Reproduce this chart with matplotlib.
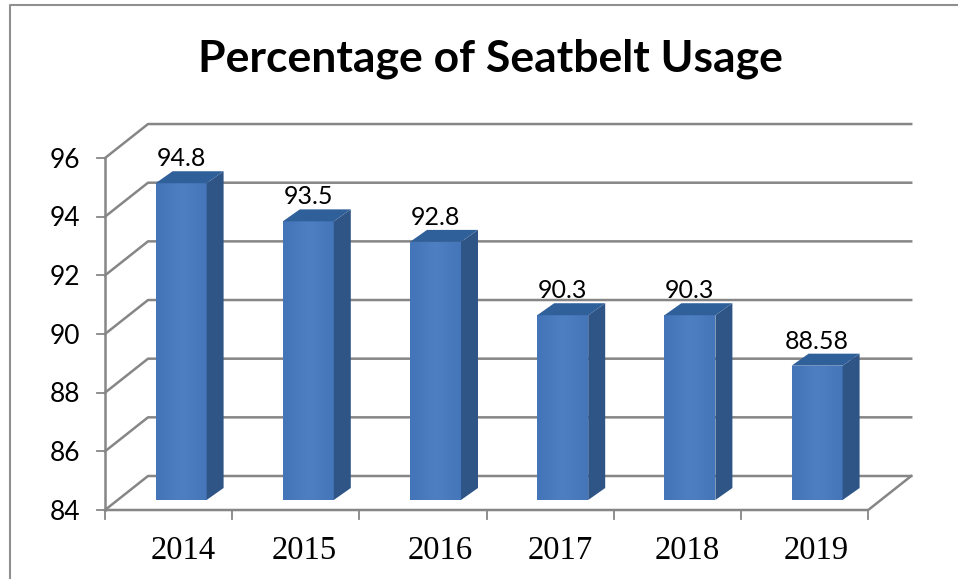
import matplotlib
matplotlib.use('Agg')
import matplotlib.pyplot as plt
from matplotlib.patches import Polygon
import numpy as np

#data
years = ['2014', '2015', '2016', '2017', '2018', '2019']
values = [94.8, 93.5, 92.8, 90.3, 90.3, 88.58]
value_labels = ['94.8', '93.5', '92.8', '90.3', '90.3', '88.58']
yticks = [84, 86, 88, 90, 92, 94, 96]

W, H = 958, 579
# pixel scale of the chart box
x0, y0 = 105, 510
px_cat = 127.2
px_val = 29.33
# wall depth, in data units
depth_x = 43 / px_cat
depth_y = 34 / px_val
grey = '#868686'
# year labels are not evenly placed in the original
year_nudge = [15, 8, 17, 10, 10, 12]

fig = plt.figure(figsize=(W / 100, H / 100), dpi=100)
ax = fig.add_axes([0, 0, 1, 1])
ax.axis('off')

# outer frame of the chart
ax.plot([10 / W, 10 / W, 1], [0, 1 - 5 / H, 1 - 5 / H], transform=ax.transAxes,
        color='#909090', lw=1.5, zorder=1)

# back wall gridlines and side wall
n = len(years)
for v in yticks:
    ax.plot([0, depth_x, n + depth_x], [v, v + depth_y, v + depth_y], color=grey, lw=1.8, zorder=1)
    ax.plot([-8 / px_cat, 0], [v, v], color=grey, lw=1.3, zorder=1)
    ax.text(-25 / px_cat, v - 2 / px_val, str(v), ha='right', va='center', fontsize=19,
            family='Lato', color='black')
ax.plot([0, 0], [84, 96], color=grey, lw=1.8, zorder=1)
# floor
ax.plot([0, n, n + depth_x], [84, 84, 84 + depth_y], color=grey, lw=1.8, zorder=1)
for i in range(n + 1):
    ax.plot([i, i], [84, 84 - 9 / px_val], color=grey, lw=1.3, zorder=1)

# bars
bar_w = 51 / px_cat
bar_dx = 17 / px_cat
bar_dy = 12 / px_val
shift_x = 12.5 / px_cat
shift_y = 10 / px_val
grad = np.array([[0.0, 0.5, 1.0, 0.6, 0.15]])
cmap = matplotlib.colors.LinearSegmentedColormap.from_list('b', ['#4375b8', '#4f80c4'])
for i, v in enumerate(values):
    mid = i + 0.5 + shift_x
    left = mid - bar_w / 2
    right = mid + bar_w / 2
    base = 84 + shift_y
    top = v + shift_y
    front = Polygon([(left, base), (right, base), (right, top), (left, top)], fc='#4a7cbe', ec='none', zorder=3)
    ax.add_patch(front)
    im = ax.imshow(grad, extent=[left, right, base, top], cmap=cmap, aspect='auto', zorder=3, interpolation='bicubic')
    im.set_clip_path(front)
    ax.add_patch(Polygon([(right, base), (right + bar_dx, base + bar_dy), (right + bar_dx, top + bar_dy), (right, top)],
                         fc='#2f5587', ec='none', zorder=3))
    ax.add_patch(Polygon([(left, top), (right, top), (right + bar_dx, top + bar_dy), (left + bar_dx, top + bar_dy)],
                         fc='#30609a', ec='none', zorder=3))
    ax.text(mid, v + 23 / px_val, value_labels[i], ha='center', va='bottom', fontsize=18,
            family='Lato', color='black', zorder=4)
    ax.text(i + 0.5 + year_nudge[i] / px_cat, 84 - 41 / px_val, years[i], ha='center', va='center', fontsize=23.5,
            family='Liberation Serif', color='black')

ax.set_xlim(-x0 / px_cat, (W - x0) / px_cat)
ax.set_ylim(84 - (H - y0) / px_val, 84 + y0 / px_val)

fig.text(490 / W, 1 - 59 / H, 'Percentage of Seatbelt Usage', ha='center', va='center',
         fontsize=32, fontweight='bold', family='Lato', color='black')

plt.savefig('out.png', dpi=100)
